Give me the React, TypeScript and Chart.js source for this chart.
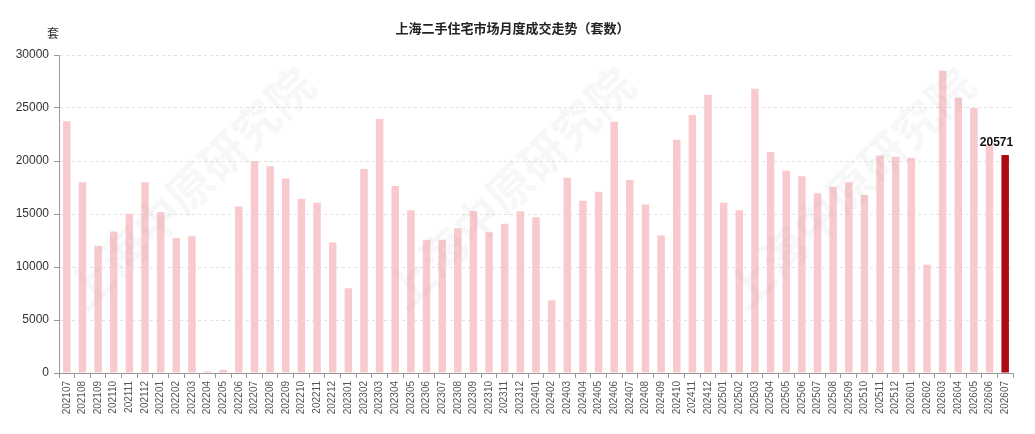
import { useEffect, useRef } from "react";
import { Chart, registerables } from "chart.js";

Chart.register(...registerables);

// ── Data ───────────────────────────────────────────────────────────────────
const MONTHS = [
  "202107", "202108", "202109", "202110", "202111", "202112",
  "202201", "202202", "202203", "202204", "202205", "202206",
  "202207", "202208", "202209", "202210", "202211", "202212",
  "202301", "202302", "202303", "202304", "202305", "202306",
  "202307", "202308", "202309", "202310", "202311", "202312",
  "202401", "202402", "202403", "202404", "202405", "202406",
  "202407", "202408", "202409", "202410", "202411", "202412",
  "202501", "202502", "202503", "202504", "202505", "202506",
  "202507", "202508", "202509", "202510", "202511", "202512",
  "202601", "202602", "202603", "202604", "202605", "202606",
  "202607",
];

const DEALS = [
  23740, 17990, 12000, 13360, 15030, 18000,
  15190, 12740, 12900, 150, 300, 15700,
  20000, 19500, 18360, 16450, 16070, 12300,
  8000, 19250, 23960, 17640, 15350, 12580,
  12580, 13650, 15280, 13270, 14090, 15250,
  14690, 6860, 18430, 16260, 17100, 23700,
  18200, 15900, 12960, 22000, 24340, 26260,
  16070, 15350, 26820, 20850, 19090, 18550,
  16950, 17580, 17990, 16790, 20530, 20410,
  20310, 10220, 28520, 25970, 25000, 21600,
  20571,
];

const Y_TICKS = [0, 5000, 10000, 15000, 20000, 25000, 30000];

const TITLE = "上海二手住宅市场月度成交走势（套数）";
const UNIT = "套";
const WATERMARK = "上海中原研究院";

const PINK = "#F8CACD";
const DARK = "#AE0A12";
const FONT = "'Liberation Sans', Arial, 'Noto Sans CJK SC', sans-serif";
const CJK = "'Noto Sans CJK SC', 'Liberation Sans', sans-serif";

// ── Plugins ────────────────────────────────────────────────────────────────
const decorPlugin = {
  id: "decor",
  afterDraw(chart: Chart) {
    const { ctx, chartArea } = chart;
    ctx.save();

    // watermark
    ctx.fillStyle = "rgba(170,170,170,0.09)";
    ctx.font = `bold 46px ${CJK}`;
    ctx.textAlign = "center";
    ctx.textBaseline = "middle";
    [190, 510, 850].forEach((cx) => {
      ctx.save();
      ctx.translate(cx, 188);
      ctx.rotate(-Math.PI / 4.1);
      ctx.fillText(WATERMARK, 0, 0);
      ctx.restore();
    });

    // title
    ctx.fillStyle = "#222";
    ctx.font = `bold 13px ${CJK}`;
    ctx.textAlign = "center";
    ctx.textBaseline = "middle";
    ctx.fillText(TITLE, chart.width / 2 - 5, 28);

    // unit
    ctx.font = `12px ${CJK}`;
    ctx.fillStyle = "#333";
    ctx.fillText(UNIT, chartArea.left - 6, chartArea.top - 22);

    // value label on last bar
    const meta = chart.getDatasetMeta(0);
    const last = meta.data[meta.data.length - 1];
    if (last) {
      ctx.font = `bold 12px ${FONT}`;
      ctx.fillStyle = "#111";
      ctx.textAlign = "right";
      ctx.textBaseline = "bottom";
      ctx.fillText(String(DEALS[DEALS.length - 1]), last.x + 8, last.y - 6);
    }
    ctx.restore();
  },
};

// ── Chart ──────────────────────────────────────────────────────────────────
function DealsChart() {
  const canvasRef = useRef<HTMLCanvasElement>(null);

  useEffect(() => {
    if (!canvasRef.current) return;
    const chart = new Chart(canvasRef.current, {
      type: "bar",
      data: {
        labels: MONTHS,
        datasets: [{
          data: DEALS,
          backgroundColor: DEALS.map((_, i) => (i === DEALS.length - 1 ? DARK : PINK)),
          borderWidth: 0,
          barPercentage: 0.48,
          categoryPercentage: 1,
        }],
      },
      options: {
        responsive: false,
        animation: false,
        layout: { padding: { top: 55, right: 22, left: 0, bottom: 0 } },
        plugins: {
          legend: { display: false },
          title: { display: false },
          tooltip: { enabled: false },
        },
        scales: {
          x: {
            afterFit: (s: any) => { s.height = 61; },
            grid: {
              drawOnChartArea: false,
              tickLength: 5,
              tickColor: "#999",
              offset: true,
            },
            border: { color: "#999" },
            ticks: {
              autoSkip: false,
              minRotation: 90,
              maxRotation: 90,
              padding: 3,
              color: "#555",
              font: { size: 10, family: FONT },
            },
          },
          y: {
            min: 0,
            max: 30000,
            afterFit: (s: any) => { s.width = 59; },
            afterBuildTicks: (s: any) => { s.ticks = Y_TICKS.map((v) => ({ value: v })); },
            grid: {
              color: "#e2e2e2",
              tickLength: 5,
              tickColor: "#999",
              tickBorderDash: [],
            },
            border: { color: "#999", dash: [3, 3] },
            ticks: {
              padding: 5,
              color: "#333",
              font: { size: 12, family: FONT },
              callback: (v: any) => String(v),
            },
          },
        },
      },
      plugins: [decorPlugin],
    });
    return () => { chart.destroy(); };
  }, []);

  return <canvas ref={canvasRef} width={1035} height={434} style={{ display: "block" }} />;
}

// ── Page ───────────────────────────────────────────────────────────────────
export default function App() {
  return (
    <div style={{ position: "fixed", left: 0, top: 0, width: 1035, height: 434, background: "#fff" }}>
      <DealsChart />
    </div>
  );
}
